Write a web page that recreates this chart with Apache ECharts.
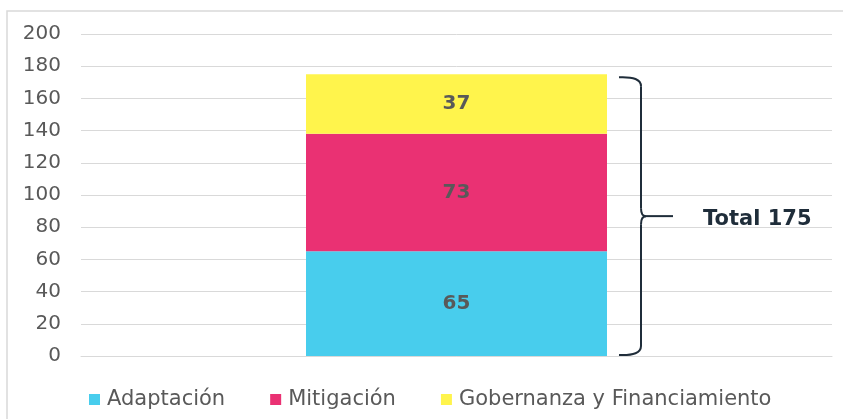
<!DOCTYPE html>
<html>
<head>
  <meta charset="utf-8">
  <title></title>
  <script src="https://cdn.jsdelivr.net/npm/echarts@6/dist/echarts.min.js"></script>
  <style>
    html, body { margin: 0; padding: 0; background: #fff; }
    #chart { width: 843px; height: 419px; }
  </style>
</head>
<body>
<div id="chart"></div>
<script>
  // datos
  var categorias = [''];
  var nombres = ['Adaptación', 'Mitigación', 'Gobernanza y Financiamiento'];
  var adaptacion = [65];
  var mitigacion = [73];
  var gobernanza = [37];
  var colores = ['#48CDED', '#EA3173', '#FFF44C'];
  var yMin = 0, yMax = 200, yPaso = 20;

  var total = adaptacion[0] + mitigacion[0] + gobernanza[0];
  var anchoBarra = 301;
  var fuente = 'DejaVu Sans';

  var chart = echarts.init(document.getElementById('chart'));

  function serieBarra(nombre, valores, color) {
    return {
      name: nombre,
      type: 'bar',
      stack: 'total',
      barWidth: anchoBarra,
      data: valores,
      itemStyle: { color: color },
      label: {
        show: true,
        position: 'inside',
        fontFamily: fuente,
        fontWeight: 'bold',
        fontSize: 20,
        color: '#595959'
      }
    };
  }

  // llave "}" con el total
  function dibujarLlave(params, api) {
    var arriba = api.coord([api.value(0), api.value(1)]);
    var abajo = api.coord([api.value(0), 0]);
    var xb = arriba[0] + anchoBarra / 2;
    var yT = arriba[1] + 3, yB = abajo[1] - 1;
    var yM = (yT + yB) / 2;
    var xA = xb + 12, xV = xb + 34, xP = xb + 39, xF = xb + 66;
    var st = { stroke: '#1F2D3A', lineWidth: 2, fill: 'none' };
    return {
      type: 'group',
      children: [
        { type: 'bezierCurve', shape: { x1: xA, y1: yT, cpx1: xV, cpy1: yT - 1, x2: xV, y2: yT + 9 }, style: st },
        { type: 'line', shape: { x1: xV, y1: yT + 9, x2: xV, y2: yM - 8 }, style: st },
        { type: 'bezierCurve', shape: { x1: xV, y1: yM - 8, cpx1: xV, cpy1: yM, x2: xP, y2: yM }, style: st },
        { type: 'bezierCurve', shape: { x1: xP, y1: yM, cpx1: xV, cpy1: yM, x2: xV, y2: yM + 8 }, style: st },
        { type: 'line', shape: { x1: xV, y1: yM + 8, x2: xV, y2: yB - 9 }, style: st },
        { type: 'bezierCurve', shape: { x1: xV, y1: yB - 9, cpx1: xV, cpy1: yB + 1, x2: xA, y2: yB }, style: st },
        { type: 'line', shape: { x1: xP, y1: yM, x2: xF, y2: yM }, style: st },
        {
          type: 'text',
          x: xF + 30, y: yM + 3,
          style: {
            text: 'Total ' + total,
            fontFamily: fuente, fontWeight: 'bold', fontSize: 21,
            fill: '#1F2D3A', align: 'left', verticalAlign: 'middle'
          }
        }
      ]
    };
  }

  var option = {
    animation: false,
    backgroundColor: '#fff',
    graphic: [{
      type: 'rect',
      z: -10,
      shape: { x: 7, y: 11, width: 900, height: 500 },
      style: { fill: 'none', stroke: '#D9D9D9', lineWidth: 1.5 }
    }],
    grid: { left: 81, right: 11, top: 34, bottom: 63 },
    legend: {
      data: nombres,
      left: 84,
      top: 384,
      itemWidth: 11,
      itemHeight: 11,
      itemGap: 45,
      icon: 'rect',
      textStyle: { fontFamily: fuente, fontSize: 21, color: '#595959', padding: [0, 0, 0, 2] }
    },
    xAxis: {
      type: 'category',
      data: categorias,
      axisLine: { lineStyle: { color: '#D9D9D9' } },
      axisTick: { show: false },
      axisLabel: { show: false }
    },
    yAxis: {
      type: 'value',
      min: yMin,
      max: yMax,
      interval: yPaso,
      axisLine: { show: false },
      axisTick: { show: false },
      axisLabel: { margin: 20, fontFamily: fuente, fontSize: 20, color: '#595959' },
      splitLine: { lineStyle: { color: '#D9D9D9', width: 1 } }
    },
    series: [
      serieBarra(nombres[0], adaptacion, colores[0]),
      serieBarra(nombres[1], mitigacion, colores[1]),
      serieBarra(nombres[2], gobernanza, colores[2]),
      {
        type: 'custom',
        silent: true,
        z: 10,
        renderItem: dibujarLlave,
        data: [[0, total]]
      }
    ]
  };

  chart.setOption(option);
</script>
</body>
</html>
